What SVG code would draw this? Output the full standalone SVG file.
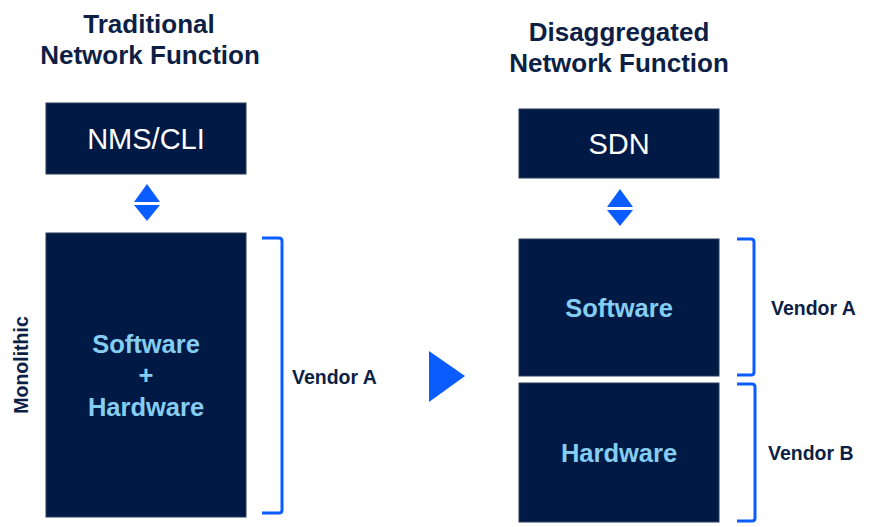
<svg xmlns="http://www.w3.org/2000/svg" width="879" height="527" viewBox="0 0 879 527">
<style>
.box{fill:#001a45;stroke:#2a3a5a;stroke-width:1}
.title{font-family:"Liberation Sans",Arial,sans-serif;font-weight:bold;font-size:26px;fill:#0d1f45;text-anchor:middle}
.lbl{font-family:"Liberation Sans",Arial,sans-serif;font-size:29px;fill:#ffffff;text-anchor:middle}
.inner{font-family:"Liberation Sans",Arial,sans-serif;font-weight:bold;font-size:25.5px;fill:#86cdf2;text-anchor:middle}
.vendor{font-family:"Liberation Sans",Arial,sans-serif;font-weight:bold;font-size:19.5px;fill:#0d1f45}
.br{fill:none;stroke:#0a5cff;stroke-width:3;stroke-linejoin:round}
.tri{fill:#0a5cff}
</style>
<text class="title" x="149" y="33">Traditional</text>
<text class="title" x="150" y="64">Network  Function</text>
<text class="title" x="619" y="41">Disaggregated</text>
<text class="title" x="619" y="72">Network  Function</text>
<text class="vendor" transform="translate(28,365) rotate(-90)" text-anchor="middle">Monolithic</text>
<g id="nms"><rect class="box" x="46" y="103" width="200" height="71"/><text class="lbl" x="146" y="149">NMS/CLI</text></g>
<g id="monolith"><rect class="box" x="46" y="233" width="200" height="284"/>
<text class="inner" x="146" y="353">Software</text><text class="inner" x="146" y="384">+</text><text class="inner" x="146" y="416">Hardware</text></g>
<g id="sdn"><rect class="box" x="519" y="109" width="200" height="69"/><text class="lbl" x="619" y="154">SDN</text></g>
<g id="software"><rect class="box" x="519" y="239" width="200" height="137"/><text class="inner" x="619" y="317">Software</text></g>
<g id="hardware"><rect class="box" x="519" y="383" width="200" height="139"/><text class="inner" x="619" y="462">Hardware</text></g>
<g id="connectors">
<polygon class="tri" points="147,184 160,202 134,202"/>
<polygon class="tri" points="134,205 160,205 147,221"/>
<polygon class="tri" points="620,189 633,207 607,207"/>
<polygon class="tri" points="607,210 633,210 620,226"/>
<polygon class="tri" points="429,351 465,376 429,402"/>
<path class="br" d="M262,238 H279 Q282,238 282,241 V510 Q282,513 279,513 H262"/>
<path class="br" d="M737,239 H751 Q754,239 754,242 V372 Q754,375 751,375 H737"/>
<path class="br" d="M737,384 H752 Q755,384 755,387 V518 Q755,521 752,521 H737"/>
</g>
<text class="vendor" x="292" y="384">Vendor A</text>
<text class="vendor" x="771" y="315">Vendor A</text>
<text class="vendor" x="768" y="460">Vendor B</text>
</svg>
